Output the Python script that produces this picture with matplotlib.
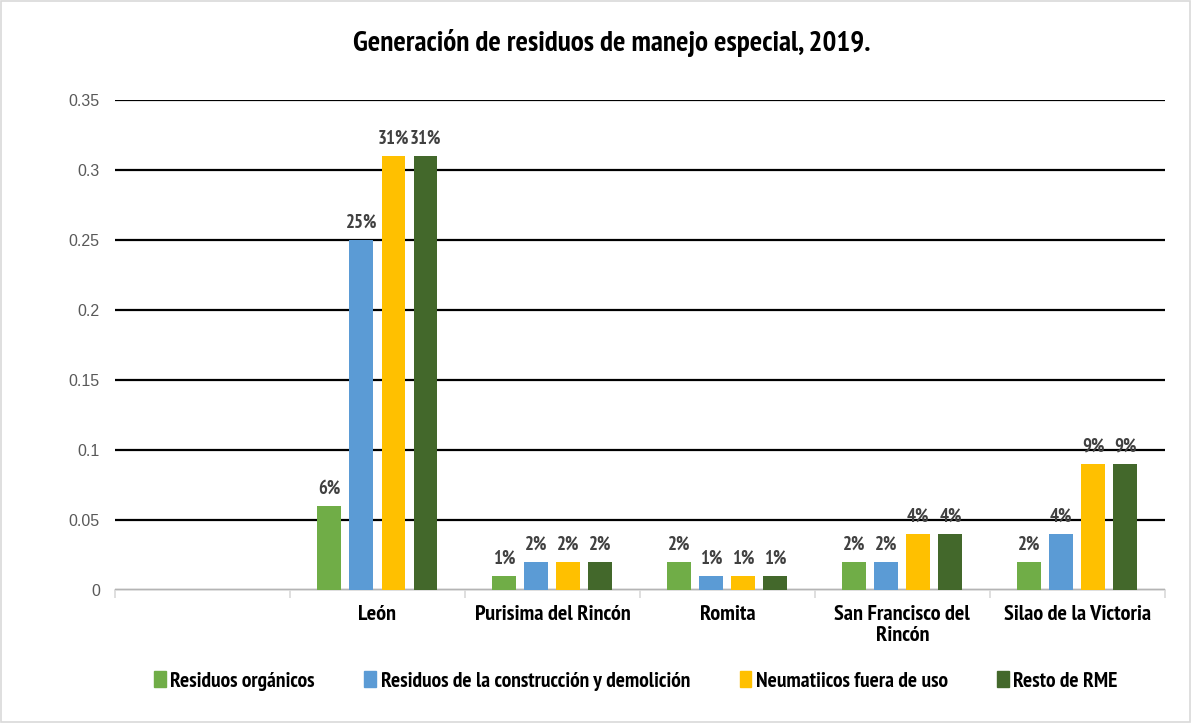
import matplotlib.pyplot as plt
import numpy as np
from matplotlib.patches import Patch, Rectangle

categories = ["", "León", "Purisima del Rincón", "Romita", "San Francisco del\nRincón", "Silao de la Victoria"]
series_names = ["Residuos orgánicos", "Residuos de la construcción y demolición",
                "Neumatiicos fuera de uso", "Resto de RME"]
organicos = [np.nan, 0.06, 0.01, 0.02, 0.02, 0.02]
construccion = [np.nan, 0.25, 0.02, 0.01, 0.02, 0.04]
neumaticos = [np.nan, 0.31, 0.02, 0.01, 0.04, 0.09]
resto = [np.nan, 0.31, 0.02, 0.01, 0.04, 0.09]
colors = ["#70AD47", "#5B9BD5", "#FFC000", "#43682B"]

narrow = ["PT Sans Narrow", "Roboto Condensed", "DejaVu Sans"]

fig = plt.figure(figsize=(11.91, 7.23), dpi=100)
ax = fig.add_axes([0.0966, 0.184, 0.8814, 0.6777])
fig.patches.append(Rectangle((0.001, 0.001), 0.998, 0.998, transform=fig.transFigure,
                             fill=False, edgecolor="#d9d9d9", linewidth=1.2))

x = np.arange(len(categories))
width = 0.137
step = 0.183
all_series = [organicos, construccion, neumaticos, resto]
for i, (vals, col) in enumerate(zip(all_series, colors)):
    pos = x + (i - 1.5) * step
    ax.bar(pos, vals, width=width, color=col, zorder=3)
    for p, v in zip(pos, vals):
        if np.isnan(v):
            continue
        ax.annotate(f"{v:.0%}", (p, v), xytext=(0, 6), textcoords="offset points",
                    ha="center", va="bottom", fontsize=13.5, fontweight="bold",
                    color="#404040", family=narrow)

ax.set_ylim(0, 0.35)
ax.set_xlim(-0.5, len(categories) - 0.5)
ax.set_yticks([0, 0.05, 0.1, 0.15, 0.2, 0.25, 0.3, 0.35])
ax.set_yticklabels(["0", "0.05", "0.1", "0.15", "0.2", "0.25", "0.3", "0.35"],
                   family=["Liberation Sans", "DejaVu Sans"])
ax.yaxis.grid(True, color="black", linewidth=1.6, zorder=0)
ax.set_axisbelow(True)
ax.tick_params(axis="y", length=0, pad=11, labelsize=11.5, labelcolor="#595959")

ax.set_xticks(x)
ax.set_xticklabels(categories, fontsize=16, fontweight="bold", family=narrow,
                   linespacing=1.15)
ax.set_xticks(np.arange(-0.5, len(categories)), minor=True)
ax.tick_params(axis="x", which="major", length=0, pad=11)
ax.tick_params(axis="x", which="minor", length=6, color="#d9d9d9", width=1.2)

for s in ["top", "right", "left"]:
    ax.spines[s].set_visible(False)
ax.spines["bottom"].set_color("#d9d9d9")
ax.spines["bottom"].set_linewidth(1.2)

fig.text(0.514, 0.94, "Generación de residuos de manejo especial, 2019.", ha="center",
         va="center", fontsize=21, fontweight="bold", family=narrow)

handles = [Patch(color=c) for c in colors]
fig.legend(handles, series_names, loc="center", bbox_to_anchor=(0.534, 0.058), ncol=4,
           frameon=False, handlelength=0.55, handleheight=0.75, handletextpad=0.2,
           columnspacing=2.3, prop={"family": narrow, "weight": "bold", "size": 15.5})

fig.savefig("out.png", dpi=100)
